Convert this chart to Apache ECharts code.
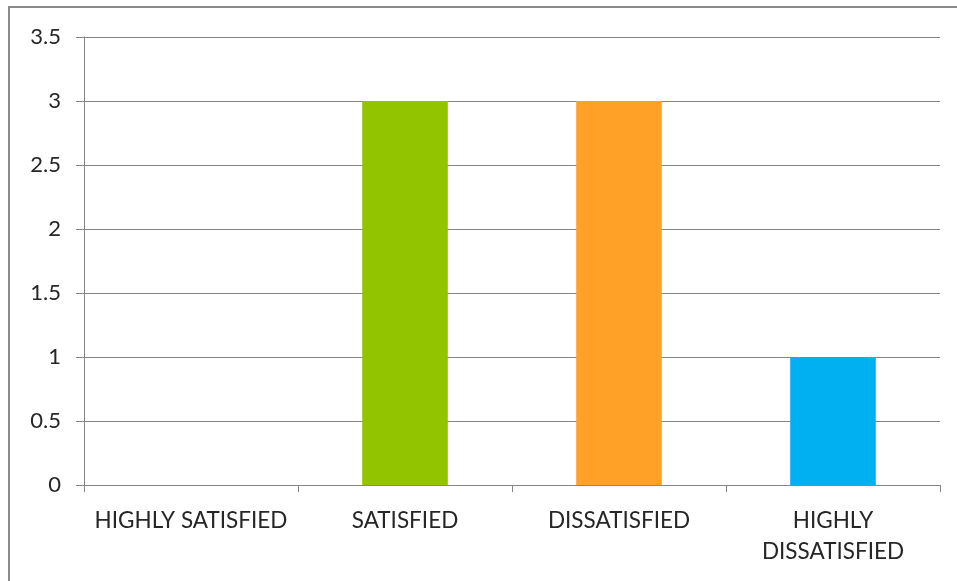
<!DOCTYPE html>
<html><head><meta charset="utf-8">
<script src="https://cdn.jsdelivr.net/npm/echarts@6/dist/echarts.min.js"></script>
<style>html,body{margin:0;padding:0;background:#fff}#c{width:957px;height:581px}</style>
</head><body><div id="c"></div>
<script>
const categories = ['HIGHLY SATISFIED', 'SATISFIED', 'DISSATISFIED', 'HIGHLY\nDISSATISFIED'];
const values = [0, 3, 3, 1];
const barColors = ['#4F81BD', '#92C500', '#FFA126', '#00B0F0'];
const yTicks = { min: 0, max: 3.5, interval: 0.5 };

const chart = echarts.init(document.getElementById('c'), null, { renderer: 'canvas' });
const axisColor = '#868686';
const font = 'Lato, "Open Sans", sans-serif';
chart.setOption({
  animation: false,
  backgroundColor: '#fff',
  graphic: [{
    type: 'polyline', shape: { points: [[9, 581], [9, 7], [957, 7]] },
    style: { stroke: '#8a8a8a', lineWidth: 2, fill: null }, silent: true
  }],
  grid: { left: 84, right: 17, top: 37, bottom: 96, containLabel: false },
  xAxis: {
    type: 'category', data: categories,
    axisLine: { show: true, lineStyle: { color: axisColor, width: 1 } },
    axisTick: { show: true, alignWithLabel: false, length: 7, lineStyle: { color: axisColor } },
    axisLabel: { color: '#262626', fontFamily: font, fontSize: 22.5, margin: 20, lineHeight: 31, interval: 0 },
    splitLine: { show: false }
  },
  yAxis: {
    type: 'value', min: yTicks.min, max: yTicks.max, interval: yTicks.interval,
    axisLine: { show: true, lineStyle: { color: axisColor, width: 1 } },
    axisTick: { show: true, length: 8, lineStyle: { color: axisColor } },
    axisLabel: { color: '#262626', fontFamily: font, fontSize: 22, margin: 23 },
    splitLine: { show: true, lineStyle: { color: axisColor, width: 1 } }
  },
  series: [{
    type: 'bar', barWidth: '40%',
    data: values.map((v, i) => ({ value: v, itemStyle: { color: barColors[i] } }))
  }]
});
</script></body></html>
